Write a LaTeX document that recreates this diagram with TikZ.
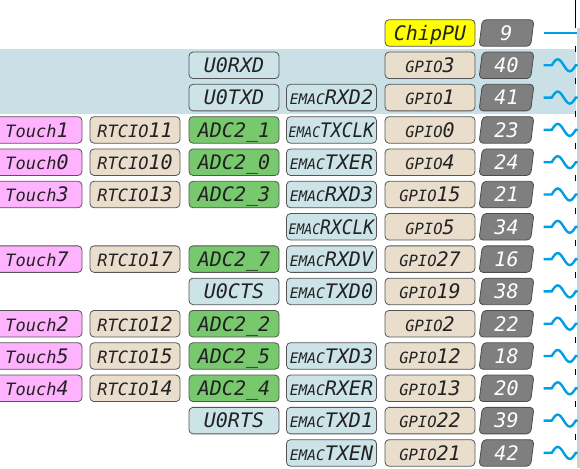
\documentclass[tikz,border=0pt]{standalone}
\usepackage{fontspec}
\usepackage{graphicx}
\usetikzlibrary{shapes.geometric}
\newfontfamily\pinfont{DejaVu Sans Mono}
\definecolor{touchpink}{HTML}{FFB3FF}
\definecolor{rtcbeige}{HTML}{E9DDCC}
\definecolor{adcgreen}{HTML}{78C86E}
\definecolor{uartblue}{HTML}{CCE3E8}
\definecolor{bandblue}{HTML}{C9E1E6}
\definecolor{pugold}{HTML}{FFFF00}
\definecolor{numgray}{HTML}{7F7F7F}
\definecolor{boxline}{HTML}{555555}
\definecolor{pinblue}{HTML}{009FE3}
\definecolor{chipgray}{HTML}{D0D0D0}
\definecolor{txt}{HTML}{222222}
\newcommand{\pfs}[1]{\fontsize{#1}{#1}\selectfont}
\newcommand{\tch}[1]{{\pfs{17}Touch}#1}
\newcommand{\rtc}[1]{{\pfs{17}RTCIO}#1}
\newcommand{\gpio}[1]{{\pfs{15.5}GPIO}#1}
\newcommand{\emac}[2][1]{\scalebox{#1}[1]{{\pfs{14.5}EMAC}#2}}

\begin{document}
\begin{tikzpicture}[x=1pt,y=-1pt,
  pinbox/.style={draw=boxline,line width=0.8pt,rounded corners=4pt,
    minimum width=90pt,minimum height=26.5pt,inner sep=0pt,
    text height=14.6pt,text depth=0pt,text=txt,font=\pinfont\itshape\pfs{20}},
  touch/.style={pinbox,fill=touchpink},
  rtc/.style={pinbox,fill=rtcbeige},
  adc/.style={pinbox,fill=adcgreen},
  uart/.style={pinbox,fill=uartblue},
  pwr/.style={pinbox,fill=pugold},
  num/.style={pinbox,trapezium,trapezium left angle=77,trapezium right angle=103,
    trapezium stretches body,minimum width=55pt,fill=numgray,draw=black!70,text=white},
  pinline/.style={pinblue,line width=2.4pt}]
  \def\tx{37} \def\rx{135} \def\ax{234} \def\ex{331.5} \def\gx{430} \def\nx{506.5}
  \useasboundingbox (0,0) rectangle (580,468);
  \clip (0,0) rectangle (580,468);
  % uart0 band and chip edge
  \fill[bandblue] (0,49) rectangle (576,114);
  \fill[chipgray] (577,28) rectangle (580,468);
  \draw[line width=1.2pt] (575.8,0) -- (575.8,28);
  \foreach \r in {1,...,13}
    \draw[line width=1.2pt] (575.8,{33+32.3*(\r-0.5)-3}) -- ++(0,6);
  % power pin
  \node[pwr] (chippu) at (\gx,33) {ChipPU};
  \node[num] (p9) at (\nx,33) {9};
  \draw[pinline] (p9.east) ++(11,0) -- ++(33,0);
  % gpio pins
  \foreach \r/\g/\n in {1/3/40,2/1/41,3/0/23,4/4/24,5/15/21,6/5/34,7/27/16,
                        8/19/38,9/2/22,10/12/18,11/13/20,12/22/39,13/21/42}{
    \node[rtc] (gpio\g) at (\gx,{33+32.3*\r}) {\gpio{\g}};
    \node[num] (p\n) at (\nx,{33+32.3*\r}) {\n};
    \draw[pinline] (p\n.east) ++(11,0) -- ++(8,0) sin ++(6,-6) cos ++(6,6)
      sin ++(6,6) cos ++(6,-6) -- ++(2,0);
  }
  % touch, rtc and adc2
  \foreach \r/\t/\c in {3/1/11,4/0/10,5/3/13,7/7/17,9/2/12,10/5/15,11/4/14}{
    \node[touch] (touch\t) at (\tx,{33+32.3*\r}) {\tch{\t}};
    \node[rtc] (rtc\c) at (\rx,{33+32.3*\r}) {\rtc{\c}};
    \node[adc] (adc\t) at (\ax,{33+32.3*\r}) {ADC2\_\t};
  }
  % uart0
  \node[uart] (u0rxd) at (\ax,{33+32.3*1}) {U0RXD};
  \node[uart] (u0txd) at (\ax,{33+32.3*2}) {U0TXD};
  \node[uart] (u0cts) at (\ax,{33+32.3*8}) {U0CTS};
  \node[uart] (u0rts) at (\ax,{33+32.3*12}) {U0RTS};
  % emac
  \foreach \r/\e/\s in {2/RXD2/1,3/TXCLK/0.9,4/TXER/1,5/RXD3/1,6/RXCLK/0.9,7/RXDV/1,
                        8/TXD0/1,10/TXD3/1,11/RXER/1,12/TXD1/1,13/TXEN/1}
    \node[uart] (emac\e) at (\ex,{33+32.3*\r}) {\emac[\s]{\e}};
\end{tikzpicture}
\end{document}
